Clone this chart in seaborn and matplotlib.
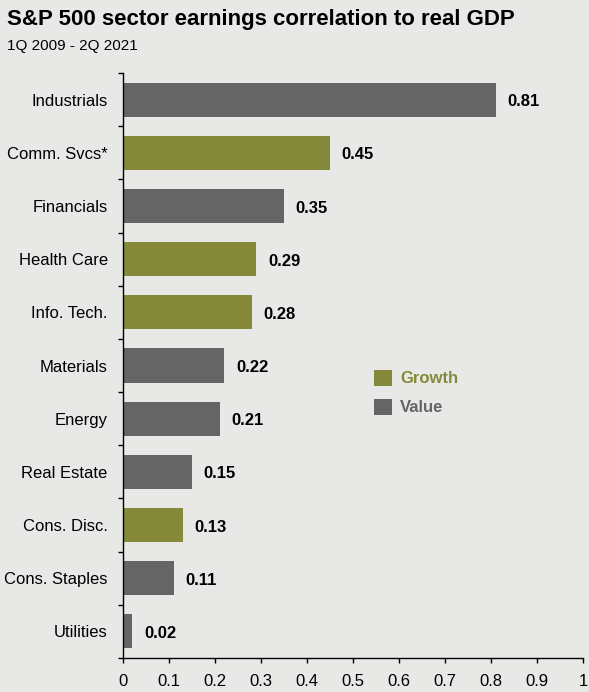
import matplotlib
matplotlib.use("Agg")
import matplotlib.pyplot as plt
import seaborn as sns
import pandas as pd
from matplotlib.patches import Patch

sectors = ["Industrials", "Comm. Svcs*", "Financials", "Health Care", "Info. Tech.",
           "Materials", "Energy", "Real Estate", "Cons. Disc.", "Cons. Staples", "Utilities"]
values = [0.81, 0.45, 0.35, 0.29, 0.28, 0.22, 0.21, 0.15, 0.13, 0.11, 0.02]
styles = ["Value", "Growth", "Value", "Growth", "Growth", "Value", "Value", "Value",
          "Growth", "Value", "Value"]
x_ticks = [0, 0.1, 0.2, 0.3, 0.4, 0.5, 0.6, 0.7, 0.8, 0.9, 1]
x_tick_labels = ["0", "0.1", "0.2", "0.3", "0.4", "0.5", "0.6", "0.7", "0.8", "0.9", "1"]

BG = "#e8e8e7"
palette = {"Growth": "#858a3a", "Value": "#656565"}

sns.set_style("white")
plt.rcParams['font.family'] = ['Liberation Sans', 'DejaVu Sans']
plt.rcParams['text.color'] = 'black'
plt.rcParams['xtick.color'] = 'black'
plt.rcParams['ytick.color'] = 'black'
plt.rcParams['axes.labelcolor'] = 'black'

df = pd.DataFrame({"sector": sectors, "value": values, "style": styles})

fig = plt.figure(figsize=(5.89, 6.92), dpi=100, facecolor=BG)
ax = fig.add_axes([0.2088, 0.0491, 0.7810, 0.8454], facecolor=BG)

sns.barplot(data=df, y="sector", x="value", hue="style", palette=palette,
            dodge=False, width=0.64, legend=False, ax=ax, order=sectors,
            saturation=1, linewidth=0, edgecolor="none")

ax.set_xlim(0, 1)
ax.set_ylim(len(sectors) - 0.5, -0.5)
ax.set_xticks(x_ticks)
ax.set_xticklabels(x_tick_labels, fontsize=12, color="black")
ax.set_yticks(range(len(sectors)))
ax.set_yticklabels(sectors, fontsize=12, color="black")
ax.set_yticks([i - 0.5 for i in range(len(sectors) + 1)], minor=True)
ax.tick_params(axis="y", which="major", left=True, length=0, pad=11)
ax.tick_params(axis="y", which="minor", left=True, length=3.5, width=1,
               direction="out", color="black")
ax.tick_params(axis="x", which="major", bottom=True, length=3.5, width=1,
               direction="out", color="black", pad=8)
ax.set_xlabel("")
ax.set_ylabel("")

for s in ["top", "right"]:
    ax.spines[s].set_visible(False)
for s in ["left", "bottom"]:
    ax.spines[s].set_color("black")
    ax.spines[s].set_linewidth(1)

for i, v in enumerate(values):
    ax.annotate(f"{v:.2f}", xy=(v, i), xytext=(8.5, -1.5), textcoords="offset points",
                ha="left", va="center", fontsize=12, fontweight="bold", color="black")

fig.text(0.012, 0.972, "S&P 500 sector earnings correlation to real GDP",
         fontsize=16, fontweight="bold", ha="left", va="center", color="black")
fig.text(0.012, 0.934, "1Q 2009 - 2Q 2021", fontsize=11, ha="left", va="center",
         color="black")

handles = [Patch(facecolor=palette["Growth"], edgecolor="none", linewidth=0, label="Growth"),
           Patch(facecolor=palette["Value"], edgecolor="none", linewidth=0, label="Value")]
leg = ax.legend(handles=handles, loc="upper left", bbox_to_anchor=(0.546, 0.493),
                frameon=False, prop={"weight": "bold", "size": 12},
                labelcolor=[palette["Growth"], palette["Value"]],
                borderpad=0, borderaxespad=0,
                handlelength=1.1, handleheight=1.1, handletextpad=0.45, labelspacing=0.75)

fig.savefig("out.png", dpi=100, facecolor=BG)
